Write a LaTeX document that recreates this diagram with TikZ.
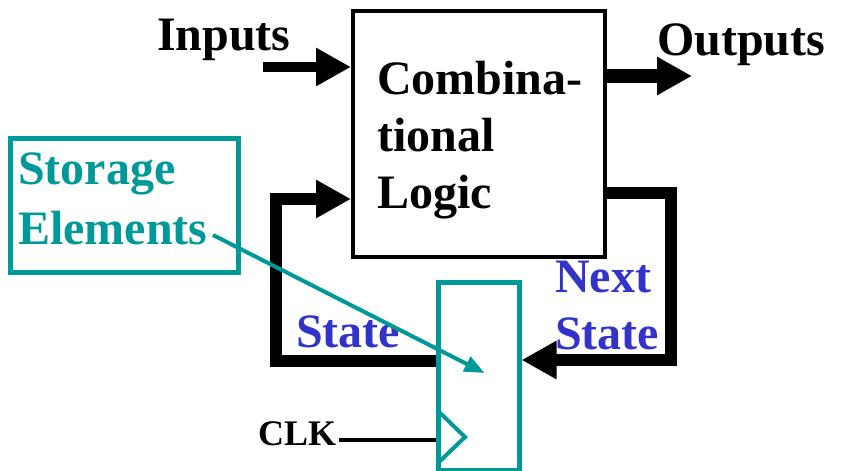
\documentclass[tikz,border=0pt]{standalone}
\usepackage{fontspec}
\setmainfont{Liberation Serif}
\usetikzlibrary{arrows.meta}

\begin{document}
\begin{tikzpicture}[x=1pt, y=-1pt,
    txt/.style={inner sep=0pt, align=left, font=\fontsize{48}{57}\selectfont\bfseries},
    bus/.style={line width=#1, -{Triangle[length=35pt,width=36pt]}},
    bus/.default=12pt,
    pointer/.style={draw=storeteal, line width=4pt, -{Triangle[length=20pt,width=16pt]}}]
  \definecolor{storeteal}{RGB}{0,153,153}
  \definecolor{stateblue}{RGB}{51,51,204}
  \useasboundingbox (0,0) rectangle (841,471);

  % boxes
  \node[draw, line width=4pt, minimum width=252pt, minimum height=246pt,
        anchor=north west] (comb) at (351,9) {};
  \node[draw=storeteal, line width=5pt, minimum width=81pt, minimum height=188pt,
        anchor=north west] (ff) at (435.5,279.5) {};
  \node[draw=storeteal, line width=5pt, minimum width=228pt, minimum height=134pt,
        anchor=north west] (store) at (7.5,135.5) {};
  \draw[storeteal, line width=4pt] (437,410) -- (465,437) -- (437,464);

  % texts
  \node[txt, anchor=north west] (combtxt) at (377,60.5) {Combina-\\tional\\Logic};
  \node[txt, anchor=base west] (inputs) at (157,50) {Inputs};
  \node[txt, anchor=base west] (outputs) at (657,55) {Outputs};
  \node[txt, storeteal, anchor=north west, font=\fontsize{48}{60}\selectfont\bfseries]
    (storetxt) at (18,152.5) {Storage\\Elements};
  \node[txt, stateblue, anchor=north west] (next) at (555,260.5) {Next\\State};
  \node[txt, stateblue, anchor=base west] (state) at (296,347) {State};
  \node[txt, anchor=base west, inner sep=3pt, font=\fontsize{36}{40}\selectfont\bfseries]
    (clk) at (255,445) {CLK};

  % wires
  \coordinate (inp) at (263,67);
  \coordinate (outp) at (692,76);
  \draw[bus=10pt] (inp) -- (comb.west |- inp);
  \draw[bus=14pt] (comb.east |- outp) -- (outp);
  \draw[bus] (comb.east |- 0,193) -| (671,360) -- (ff.east |- 0,360);
  \draw[bus] (ff.west |- 0,361) -| (276,199) -- (comb.west |- 0,199);
  \draw[line width=3.5pt] (clk.east |- 0,440) -- (ff.west |- 0,440);

  \coordinate (ptr) at (213,235);
  \draw[pointer] (ptr) -- ([shift={(6pt,3pt)}]ff.center);
\end{tikzpicture}
\end{document}
